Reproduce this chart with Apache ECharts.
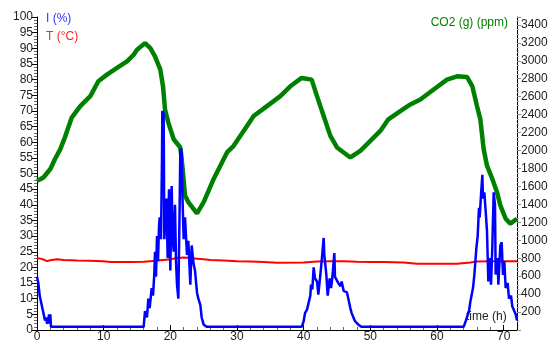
<!DOCTYPE html>
<html>
<head>
<meta charset="utf-8">
<script src="https://cdn.jsdelivr.net/npm/echarts@6/dist/echarts.min.js"></script>
<style>
  html, body { margin: 0; padding: 0; background: #fff; }
  #chart { width: 557px; height: 343px; }
</style>
</head>
<body>
<div id="chart"></div>
<script>
// data
var timeI = [0,0.2,0.4,0.6,0.8,1.0,1.2,1.4,1.5,1.7,1.8,1.9,2.0,2.1,16.0,
  16.2,16.5,16.7,16.9,17.2,17.4,17.6,17.7,17.85,18.0,18.15,18.3,18.4,18.6,18.75,18.8,19.0,19.1,19.25,19.4,19.6,19.8,20.0,20.2,20.35,20.5,20.7,20.85,21.0,21.2,21.4,21.5,21.7,21.8,22.0,22.2,22.5,22.7,23.0,23.2,23.5,23.7,24.0,24.2,24.5,24.7,25.0,25.5,39.7,
  40.0,40.2,40.5,40.7,41.0,41.1,41.3,41.5,41.7,42.0,42.2,42.5,42.7,43.0,43.1,43.4,43.6,43.9,44.1,44.3,44.5,44.6,44.7,45.0,45.2,45.5,45.7,46.0,46.2,46.5,46.7,47.0,47.2,47.5,47.7,48.2,48.7,64.0,
  64.3,64.8,65.0,65.4,65.6,65.9,66.1,66.3,66.4,66.6,66.8,66.9,67.1,67.3,67.5,67.7,67.9,68.1,68.3,68.5,68.7,68.8,69.1,69.2,69.5,69.7,69.9,70.1,70.3,70.6,70.8,71.1,71.3,71.6,71.8,72];
var valI = [17,15,11,9,7,5,3,4,2,3,5,2,5,1,1,
  6,4,10,7,13.4,11,18,25,17,30,22,33,36,29,55,70,69,29,38,42,23,45,19,46,30,25,40,22,14.5,10,40,58,57,44,29,36,24,28.5,14.5,27,21,19,12,10,8,4,1.7,1,1,
  2.8,5.4,6.5,7,11,14.5,13,20,16.5,15.5,11.3,17.6,22,29.4,24,17.7,11,16.5,13.4,16.7,17,24.6,17,17.6,15,14,15.5,12.5,13,12,10,7,5.4,3.8,2.8,1.7,1,1,
  2.8,6,9,13.4,17.5,26,30,39,36,43,49.6,42,44,38,31.5,15.5,23,14.5,26.6,44,40,17.7,23,14.5,27,28,17.6,22,13.4,15,10,11,7.5,8,5,3];

var timeT = [0,0.5,1,1.5,2,3,4,6,8,10,11,14,16,17,18,19,20,21,22,23,24,25,26,28,30,32,34,36,40,42,44,46,48,50,52,55,57,60,63,65,66,68,72];
var valT = [23,22.8,22.5,22,22.3,22.6,22.4,22.2,22.1,22,21.7,21.7,21.8,22,22.2,22.4,22.6,23,23.2,23,22.8,22.6,22.4,22.2,22,21.9,21.7,21.5,21.6,21.9,22,22,21.8,21.7,21.7,21.6,21.2,21.2,21.2,21.6,21.9,22,22];

var timeCO2 = [0,0.5,1,2,2.7,3.5,4.2,5.2,6.5,8,9.2,10.5,12,13.5,14.5,15,16.2,17,17.7,18.5,18.9,19.2,19.7,20.5,21.5,21.7,22.2,22.7,24,25,26.5,28.5,29.5,31.5,32.5,34.5,36.5,38,39.7,41.2,42,43,44,45,47,48.5,50,51.5,52.7,54.5,56,57.5,59.5,61.5,63,64.5,65.3,66,66.5,67,67.5,68.3,69,69.5,70.3,71,72];
var valCO2 = [1665,1680,1702,1794,1905,2015,2150,2366,2495,2606,2772,2846,2920,2993,3067,3123,3197,3142,3049,2901,2716,2458,2311,2126,2034,1905,1498,1425,1300,1425,1683,1979,2052,2273,2384,2495,2606,2716,2809,2790,2606,2384,2163,2034,1923,1997,2107,2218,2348,2440,2514,2569,2680,2790,2827,2820,2716,2495,2348,2015,1831,1683,1536,1388,1240,1185,1240];

function zip(a, b) {
  var out = [];
  for (var i = 0; i < a.length; i++) out.push([a[i], b[i]]);
  return out;
}

var labelFont = { color: '#222', fontSize: 12, fontFamily: 'Liberation Sans' };

var option = {
  animation: false,
  grid: { left: 37, right: 40, top: 17, bottom: 11 },
  xAxis: {
    type: 'value', min: 0, max: 72, interval: 10,
    axisLine: { onZero: false, lineStyle: { color: '#000', width: 1 } },
    axisTick: { inside: true, length: 5, lineStyle: { color: '#000' } },
    minorTick: { show: true, splitNumber: 5, length: 3, lineStyle: { color: '#666' } },
    axisLabel: Object.assign({ margin: 1, showMaxLabel: false }, labelFont),
    splitLine: { show: false }
  },
  yAxis: [
    {
      type: 'value', min: 0, max: 100, interval: 5, position: 'left',
      axisLine: { show: true, lineStyle: { color: '#000' } },
      axisTick: { show: true, length: 5, lineStyle: { color: '#000' } },
      minorTick: { show: true, splitNumber: 5, length: 3, lineStyle: { color: '#666' } },
      axisLabel: Object.assign({ margin: 4 }, labelFont),
      splitLine: { show: false }
    },
    {
      type: 'value', min: 0, max: 3488, interval: 200, position: 'right',
      axisLine: { show: true, lineStyle: { color: '#000' } },
      axisTick: { show: true, length: 4, lineStyle: { color: '#888' } },
      minorTick: { show: true, splitNumber: 4, length: 2, lineStyle: { color: '#aaa' } },
      axisLabel: Object.assign({
        margin: 4, showMinLabel: false, showMaxLabel: false,
        formatter: function (v) { return String(v); }
      }, labelFont),
      splitLine: { show: false }
    }
  ],
  series: [
    {
      name: 'T (°C)', type: 'line', yAxisIndex: 0, symbol: 'none',
      lineStyle: { color: '#ff0000', width: 2 },
      data: zip(timeT, valT)
    },
    {
      name: 'CO2 (g) (ppm)', type: 'line', yAxisIndex: 1, symbol: 'none',
      lineStyle: { color: '#008000', width: 4.5 },
      data: zip(timeCO2, valCO2)
    },
    {
      name: 'I (%)', type: 'line', yAxisIndex: 0, symbol: 'none',
      lineStyle: { color: '#0000ff', width: 2.5 },
      data: zip(timeI, valI)
    }
  ],
  graphic: [
    { type: 'text', left: 46, top: 13, style: { text: 'I (%)', fill: '#3333ff', font: '12px "Liberation Sans"' } },
    { type: 'text', left: 46, top: 31, style: { text: 'T (°C)', fill: '#ff2020', font: '12px "Liberation Sans"' } },
    { type: 'text', right: 49, top: 17, style: { text: 'CO2 (g) (ppm)', fill: '#008000', font: '12px "Liberation Sans"' } },
    { type: 'text', left: 466, top: 311, style: { text: 'time (h)', fill: '#222', font: '12px "Liberation Sans"' } }
  ]
};

var myChart = echarts.init(document.getElementById('chart'));
myChart.setOption(option);
</script>
</body>
</html>
